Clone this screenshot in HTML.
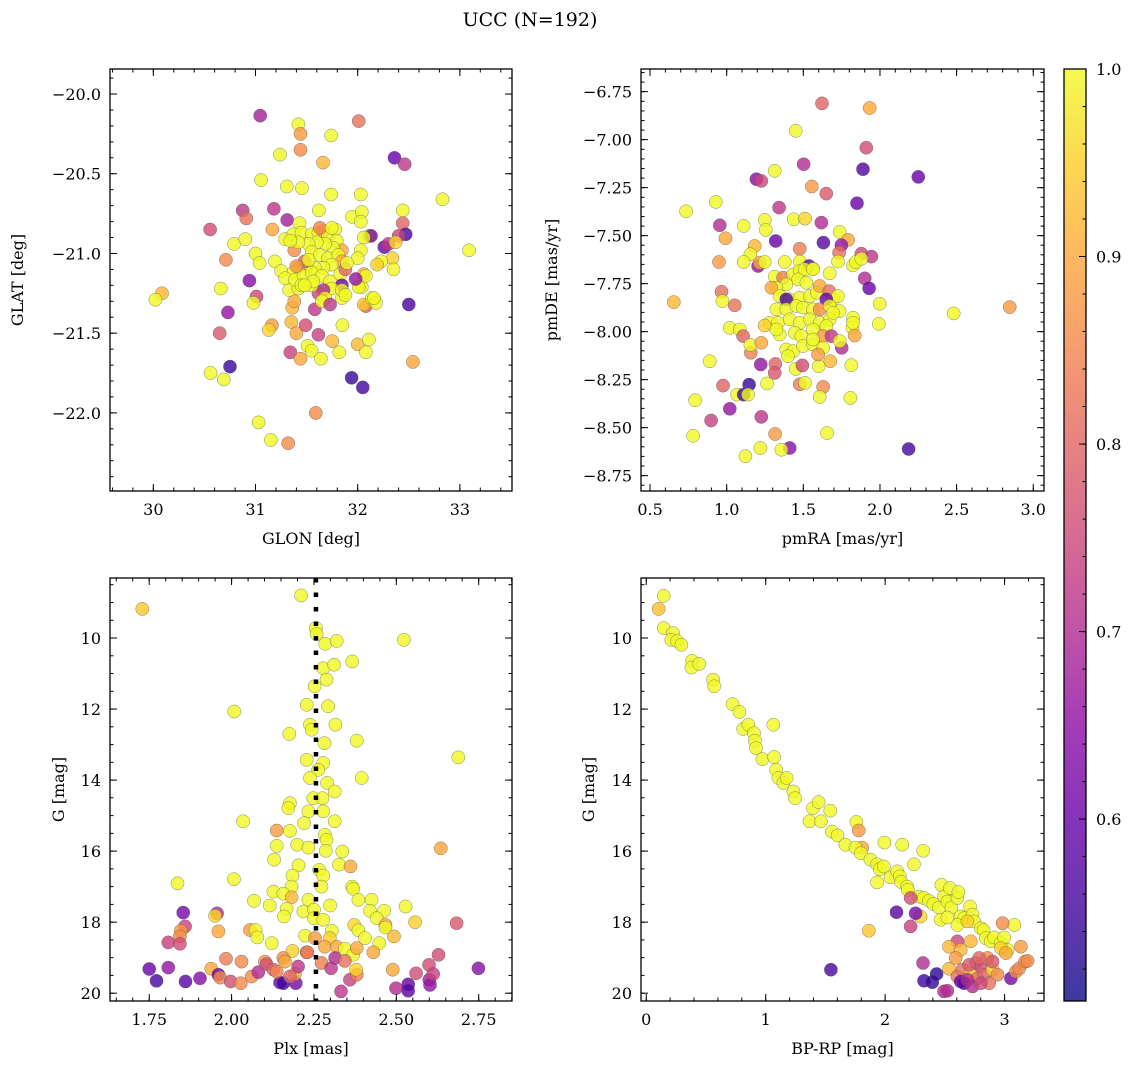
<!DOCTYPE html>
<html><head><meta charset="utf-8">
<style>
html,body{margin:0;padding:0;background:#fff;}
svg{display:block;font-family:"DejaVu Serif","Liberation Serif",serif;}
</style></head>
<body>
<svg id="chart" width="1136" height="1068" viewBox="0 0 1136 1068" xmlns="http://www.w3.org/2000/svg">
<defs>
<linearGradient id="plasmaGrad" x1="0" y1="1" x2="0" y2="0">
<stop offset="0" stop-color="#0d0887"/><stop offset="0.1" stop-color="#41049d"/><stop offset="0.2" stop-color="#6a00a8"/><stop offset="0.3" stop-color="#8f0da4"/><stop offset="0.4" stop-color="#b12a90"/><stop offset="0.5" stop-color="#cc4778"/><stop offset="0.6" stop-color="#e16462"/><stop offset="0.7" stop-color="#f2844b"/><stop offset="0.8" stop-color="#fca636"/><stop offset="0.9" stop-color="#fcce25"/><stop offset="1" stop-color="#f0f921"/>
</linearGradient>
</defs>
<text x="530" y="26" text-anchor="middle" font-size="19">UCC (N=192)</text>
</svg>
<script>
// ---- Panel A: GLON / GLAT ----
const glonGlatProb = [
[31.046,-20.135,0.68],[31.42,-20.19,1],[31.44,-20.25,0.88],[32.01,-20.17,0.82],[31.74,-20.26,1],[31.44,-20.35,0.86],[31.24,-20.38,1],[31.66,-20.43,0.92],[32.36,-20.40,0.6],[32.46,-20.44,0.72],
[31.055,-20.54,1],[31.306,-20.58,1],[31.454,-20.59,1],[31.74,-20.63,1],[32.03,-20.63,1],[32.83,-20.66,1],[30.875,-20.73,0.72],[30.91,-20.78,0.82],[31.18,-20.72,0.72],[31.31,-20.79,0.68],
[31.62,-20.73,1],[31.945,-20.77,1],[32.04,-20.74,1],[32.03,-20.80,1],[32.44,-20.73,1],[32.44,-20.81,0.8],[30.556,-20.85,0.76],[31.43,-20.81,1],[31.165,-20.85,0.9],[32.47,-20.88,0.56],
[32.40,-20.89,0.74],[32.26,-20.96,0.6],[32.30,-20.94,0.72],[32.37,-20.93,0.95],[32.11,-20.89,1],[32.13,-20.89,0.62],[32.06,-20.90,1],[32.03,-20.98,1],[32.0,-21.03,1],[32.34,-21.03,0.95],
[32.23,-21.05,1],[32.19,-21.07,0.95],[32.35,-21.10,1],[33.09,-20.98,1],[30.79,-20.94,1],[30.90,-20.91,1],[31.0,-21.0,1],[31.04,-21.06,1],[30.71,-21.04,0.86],[30.94,-21.17,0.64],
[30.66,-21.22,1],[31.01,-21.27,0.75],[30.98,-21.31,1],[30.085,-21.25,0.92],[30.02,-21.29,1],[30.73,-21.37,0.66],[30.65,-21.50,0.78],[30.75,-21.71,0.54],[30.56,-21.75,1],[30.69,-21.79,1],
[31.16,-21.45,0.88],[31.13,-21.48,0.96],[31.35,-21.43,0.92],[31.40,-21.50,0.9],[31.49,-21.45,0.76],[31.615,-21.51,0.74],[31.51,-21.58,1],[31.55,-21.61,1],[31.64,-21.66,1],[31.34,-21.62,0.74],
[31.44,-21.66,0.9],[31.75,-21.55,0.92],[31.82,-21.62,1],[31.85,-21.45,1],[32.0,-21.57,0.92],[32.11,-21.54,1],[32.08,-21.62,1],[32.54,-21.68,0.9],[31.94,-21.78,0.54],[32.05,-21.84,0.55],
[32.50,-21.32,0.56],[32.08,-21.33,0.8],[32.06,-21.32,0.94],[32.14,-21.28,1],[32.18,-21.31,1],[32.16,-21.28,1],[32.04,-21.21,1],[32.01,-21.21,1],[32.06,-21.13,0.9],[32.08,-21.14,1],
[31.98,-21.16,0.66],[31.59,-22.0,0.86],[31.03,-22.06,1],[31.15,-22.17,1],[31.32,-22.19,0.86],[31.36,-21.34,0.92],[31.38,-21.30,0.9],[31.58,-21.35,0.72],[31.33,-21.23,1],[31.42,-21.22,1],
[31.19,-21.05,1],[31.25,-21.11,1],[31.38,-20.98,0.86],
[31.29,-20.91,1],[31.37,-20.88,1],[31.45,-20.87,1],[31.55,-20.88,1],[31.615,-20.87,1],[31.665,-20.86,0.9],[31.71,-20.89,1],[31.78,-20.85,1],[31.795,-20.92,1],[31.845,-20.98,0.9],
[31.76,-20.965,1],[31.68,-20.94,1],[31.60,-20.93,1],[31.52,-20.94,1],[31.42,-20.93,1],[31.34,-20.92,1],[31.55,-20.99,1],[31.63,-21.01,1],[31.71,-21.03,1],[31.81,-21.01,1],
[31.845,-21.05,0.9],[31.745,-21.07,1],[31.665,-21.09,1],[31.58,-21.09,1],[31.50,-21.07,1],[31.42,-21.09,0.9],[31.37,-21.12,1],[31.29,-21.155,1],[31.385,-21.165,1],[31.47,-21.14,1],
[31.55,-21.12,1],[31.65,-21.14,1],[31.73,-21.175,1],[31.83,-21.13,1],[31.88,-21.10,0.8],[31.845,-21.20,0.6],[31.745,-21.22,1],[31.665,-21.23,0.7],[31.615,-21.25,0.75],[31.68,-21.28,1],
[31.65,-21.30,1],[31.55,-21.20,1],[31.48,-21.05,0.8],[31.52,-21.04,1],[31.63,-20.84,0.85],[31.745,-20.84,1],[31.565,-21.175,1],[31.45,-21.20,1],[31.845,-21.28,1],[31.73,-21.32,0.72],
[31.895,-21.06,1],[31.40,-21.08,0.88],[31.48,-21.20,1],[31.845,-21.23,1],[31.88,-21.26,1]
];
const glonTicks = [30,31,32,33];
const glonTickLabels = ["30","31","32","33"];
const glatTicks = [-20,-20.5,-21,-21.5,-22];
const glatTickLabels = ["\u221220.0","\u221220.5","\u221221.0","\u221221.5","\u221222.0"];

// ---- Panel B: pmRA / pmDE ----
const pmraPmdeProb = [
[1.622,-6.811,0.8],[1.933,-6.835,0.9],[1.450,-6.954,1],[1.911,-7.042,0.76],[1.502,-7.128,0.7],[1.889,-7.154,0.57],[2.250,-7.194,0.6],[1.313,-7.162,1],[1.194,-7.206,0.64],[1.226,-7.215,0.75],
[1.555,-7.244,0.88],[1.650,-7.281,0.78],[1.850,-7.331,0.6],[0.929,-7.324,1],[0.735,-7.373,1],[1.342,-7.354,0.72],[0.955,-7.446,0.7],[1.111,-7.449,1],[1.248,-7.418,1],[1.255,-7.470,1],
[1.437,-7.415,1],[1.511,-7.411,0.96],[1.618,-7.432,0.7],[1.737,-7.481,1],[1.792,-7.522,0.9],[0.992,-7.514,0.9],[1.320,-7.528,0.6],[1.631,-7.536,0.58],[1.748,-7.549,0.66],[1.476,-7.568,0.84],
[1.183,-7.554,0.92],[1.155,-7.597,1],[1.733,-7.589,0.82],[1.879,-7.594,0.75],[1.944,-7.609,0.72],[0.950,-7.637,0.88],[1.111,-7.637,1],[1.205,-7.658,0.66],[1.216,-7.641,0.9],[1.248,-7.637,1],
[1.379,-7.637,1],[1.476,-7.635,1],[1.537,-7.658,0.58],[1.563,-7.672,1],[1.726,-7.635,1],[1.824,-7.655,1],[1.842,-7.637,1],[1.879,-7.620,1],[1.672,-7.696,1],[1.900,-7.722,0.7],
[1.929,-7.774,0.6],[0.655,-7.846,0.92],[0.966,-7.792,0.82],[0.972,-7.841,1],[1.052,-7.863,0.82],[1.998,-7.855,1],[2.481,-7.905,1],[2.846,-7.872,0.88],[1.992,-7.959,1],[1.020,-7.980,1],
[1.085,-7.989,1],[1.107,-8.023,0.8],[1.157,-8.110,0.84],[1.155,-8.069,1],[1.226,-8.058,0.9],[0.889,-8.154,1],[1.222,-8.171,0.66],[1.318,-8.168,0.8],[1.313,-8.215,0.78],[1.450,-8.194,1],
[1.494,-8.176,0.76],[1.600,-8.180,1],[1.676,-8.154,0.92],[1.813,-8.175,1],[1.750,-8.084,0.7],[1.146,-8.276,0.54],[0.976,-8.281,0.8],[1.263,-8.270,1],[1.476,-8.274,0.84],[1.511,-8.267,1],
[1.629,-8.288,0.86],[1.068,-8.328,1],[1.111,-8.328,0.55],[1.139,-8.328,1],[1.607,-8.340,1],[1.807,-8.345,1],[0.794,-8.357,1],[1.020,-8.402,0.66],[1.226,-8.444,0.72],[0.898,-8.463,0.74],
[1.316,-8.533,0.88],[1.655,-8.528,1],[0.781,-8.542,1],[1.411,-8.606,0.64],[1.357,-8.615,1],[1.220,-8.606,1],[1.122,-8.649,1],[2.187,-8.611,0.56],
[1.313,-7.714,1],[1.368,-7.719,0.84],[1.433,-7.702,1],[1.476,-7.684,1],[1.509,-7.675,1],[1.563,-7.675,1],[1.466,-7.728,1],[1.520,-7.745,1],[1.389,-7.754,1],[1.324,-7.771,1],
[1.292,-7.771,0.9],[1.346,-7.815,1],[1.411,-7.832,1],[1.476,-7.823,1],[1.542,-7.815,1],[1.589,-7.797,1],[1.607,-7.762,0.9],[1.668,-7.789,0.82],[1.694,-7.832,1],[1.726,-7.815,1],
[1.650,-7.832,0.6],[1.389,-7.832,0.56],[1.324,-7.884,1],[1.389,-7.884,1],[1.455,-7.867,1],[1.498,-7.875,1],[1.563,-7.884,1],[1.607,-7.884,0.86],[1.672,-7.867,1],[1.737,-7.893,1],
[1.281,-7.954,1],[1.335,-7.954,1],[1.411,-7.936,1],[1.476,-7.954,1],[1.542,-7.936,1],[1.607,-7.954,1],[1.672,-7.936,1],[1.650,-7.971,1],[1.248,-7.968,0.95],[1.346,-8.015,1],
[1.444,-8.006,1],[1.487,-8.023,1],[1.563,-7.989,1],[1.629,-8.023,0.88],[1.683,-8.023,0.72],[1.737,-8.049,1],[1.824,-7.928,1],[1.820,-7.980,1],[1.835,-8.020,0.9],[1.389,-8.093,1],
[1.433,-8.102,1],[1.498,-8.075,1],[1.563,-8.067,1],[1.629,-8.084,1],[1.596,-8.119,0.88],[1.400,-8.128,1],[1.563,-8.041,1],[1.324,-7.989,1],[1.694,-7.902,1],[1.824,-7.954,1]
];
const pmraTicks = [0.5,1.0,1.5,2.0,2.5,3.0];
const pmraTickLabels = ["0.5","1.0","1.5","2.0","2.5","3.0"];
const pmdeTicks = [-6.75,-7.0,-7.25,-7.5,-7.75,-8.0,-8.25,-8.5,-8.75];
const pmdeTickLabels = ["\u22126.75","\u22127.00","\u22127.25","\u22127.50","\u22127.75","\u22128.00","\u22128.25","\u22128.50","\u22128.75"];

// ---- Panel C: Plx / G ----
const plxGProb = [
[1.729,9.18,0.94],[2.211,8.80,1],[2.256,9.72,1],[2.258,9.89,1],[2.284,10.16,1],[2.319,10.08,1],[2.523,10.05,1],[2.366,10.66,1],[2.278,10.85,1],[2.311,10.75,1],
[2.288,11.17,1],[2.252,11.36,1],[2.228,11.88,1],[2.293,11.92,1],[2.008,12.07,1],[2.315,12.44,1],[2.238,12.44,1],[2.243,12.58,1],[2.175,12.70,1],[2.380,12.89,1],
[2.282,12.96,1],[2.688,13.36,1],[2.228,13.43,1],[2.278,13.52,1],[2.263,13.71,1],[2.238,13.94,1],[2.395,13.94,1],[2.290,14.08,1],[2.313,14.32,1],[2.248,14.51,1],
[2.276,14.51,1],[2.177,14.65,1],[2.172,14.79,1],[2.233,14.88,1],[2.278,14.88,1],[2.220,15.21,1],[2.313,15.16,1],[2.035,15.16,1],[2.137,15.42,0.88],[2.177,15.43,1],
[2.283,15.54,1],[2.288,15.68,1],[2.137,15.85,1],[2.199,15.82,1],[2.233,15.90,1],[2.286,15.99,1],[2.336,16.01,1],[2.129,16.24,1],[2.326,16.38,1],[2.361,16.43,0.9],
[2.635,15.92,0.9],[2.203,16.40,1],[2.185,16.69,1],[2.266,16.53,1],[2.278,16.69,1],[2.007,16.79,1],[1.836,16.91,1],[2.273,17.00,1],[2.182,17.00,1],[2.366,17.00,1],
[2.369,17.06,1],[2.127,17.14,1],[2.157,17.20,1],[2.182,17.30,0.92],[2.233,17.37,1],[2.385,17.37,1],[2.425,17.37,1],[2.528,17.56,1],[2.068,17.40,1],[2.116,17.53,1],
[2.167,17.62,1],[2.299,17.53,1],[2.218,17.70,1],[2.250,17.65,1],[2.420,17.68,1],[2.463,17.68,1],[1.853,17.73,0.62],[1.956,17.75,0.7],[1.950,17.82,0.96],[2.159,17.84,1],
[2.250,17.89,1],[2.440,17.89,1],[2.278,17.93,1],[2.557,18.00,0.95],[2.683,18.03,0.78],[2.467,18.08,0.9],[2.372,18.08,0.96],[2.467,18.15,1],[1.859,18.12,0.74],[1.846,18.24,0.88],
[1.843,18.40,0.86],[1.960,18.26,0.9],[2.056,18.22,0.88],[2.073,18.22,1],[2.078,18.43,1],[1.808,18.57,0.74],[1.843,18.61,0.76],[2.122,18.59,1],[2.223,18.38,1],[2.304,18.24,1],
[2.298,18.45,0.95],[2.385,18.23,1],[2.405,18.45,1],[2.493,18.40,0.92],[2.448,18.59,1],[2.430,18.85,0.9],[2.253,18.45,0.88],[2.283,18.69,0.9],[2.319,18.69,0.9],[2.344,18.75,1],
[2.369,18.92,1],[2.185,18.81,0.95],[2.228,18.85,0.8],[2.380,18.73,0.9],
[1.750,19.32,0.6],[1.772,19.65,0.56],[1.808,19.28,0.66],[1.860,19.67,0.58],[1.904,19.58,0.64],[1.938,19.31,0.9],[1.960,19.48,0.6],[1.965,19.56,0.86],[1.983,19.03,0.84],[1.997,19.67,0.76],
[2.028,19.72,0.86],[2.030,19.11,0.86],[2.061,19.53,0.86],[2.081,19.41,0.7],[2.101,19.11,0.88],[2.106,19.18,0.76],[2.127,19.34,0.8],[2.157,19.01,0.86],[2.162,19.11,0.9],[2.147,19.70,0.6],
[2.157,19.72,0.55],[2.195,19.72,0.62],[2.192,19.46,0.9],[2.202,19.25,0.72],[2.230,18.85,0.84],[2.273,19.15,0.84],[2.302,19.30,0.72],[2.314,19.01,0.7],[2.344,19.09,0.82],[2.359,19.62,0.74],
[2.380,19.48,0.84],[2.378,19.34,0.95],[2.489,19.34,0.9],[2.499,19.86,0.7],[2.536,19.75,0.6],[2.536,19.93,0.58],[2.560,19.44,0.76],[2.599,19.20,0.76],[2.600,19.62,0.68],[2.602,19.77,0.66],
[2.612,19.46,0.74],[2.628,18.92,0.76],[2.749,19.30,0.64],[2.332,19.95,0.72],[2.177,19.53,0.8],[2.137,19.39,0.85]
];
const plxTicks = [1.75,2.0,2.25,2.5,2.75];
const plxTickLabels = ["1.75","2.00","2.25","2.50","2.75"];
const gTicks = [10,12,14,16,18,20];
const gTickLabels = ["10","12","14","16","18","20"];
const plxMedian = [2.256];

// ---- Panel D: BP-RP / G ----
const bprpGProb = [
[0.146,8.81,1],[0.104,9.18,0.93],[0.146,9.72,1],[0.224,9.86,1],[0.210,10.05,1],[0.258,10.09,1],[0.294,10.19,1],[0.384,10.64,1],[0.378,10.83,1],[0.443,10.73,1],
[0.560,11.17,1],[0.569,11.36,1],[0.723,11.86,1],[0.779,12.08,1],[0.812,12.56,1],[0.854,12.44,1],[0.902,12.68,1],[0.910,12.89,1],[0.919,13.10,1],[1.064,12.44,1],
[0.972,13.41,1],[1.070,13.35,1],[1.087,13.71,1],[1.106,13.94,1],[1.148,14.08,1],[1.176,13.94,1],[1.232,14.32,1],[1.246,14.51,1],[1.367,15.16,1],[1.395,14.79,1],
[1.443,14.62,1],[1.462,15.16,1],[1.541,14.86,1],[1.555,15.45,1],[1.602,15.56,1],[1.667,15.82,1],[1.759,15.18,1],[1.779,15.42,0.88],[1.807,15.90,0.9],[1.751,15.90,1],
[1.798,16.06,1],[1.877,16.24,1],[1.933,16.37,1],[1.955,16.51,1],[1.989,16.43,1],[1.933,16.88,1],[1.994,15.76,1],[2.045,16.74,1],[2.101,16.57,1],[2.123,16.71,1],
[2.143,15.82,1],[2.134,16.87,1],[2.185,17.00,1],[2.190,17.09,1],[2.241,16.37,1],[2.319,15.99,1],[2.283,17.28,1],[2.325,17.32,1],[2.367,17.40,1],[2.403,17.49,1],
[2.451,17.59,1],[2.471,16.95,1],[2.493,17.28,1],[2.521,17.42,1],[2.543,17.04,1],[2.555,17.59,1],[2.605,17.32,1],[2.613,17.15,1],[2.633,17.84,1],[2.661,17.89,1],
[2.711,17.56,1],[2.731,17.79,1],[2.745,17.98,1],[2.801,18.17,1],[2.824,18.22,1],[2.843,18.45,1],[2.885,18.54,1],[2.913,18.43,1],[2.969,18.59,1],[2.997,18.43,1],
[3.025,18.78,1],[3.081,18.08,1],[2.465,17.93,1],[2.605,18.08,1],[2.689,17.98,0.95],[2.297,17.84,0.96],[1.863,18.24,0.94],[2.969,18.73,0.95],[2.521,17.87,1],
[2.095,17.72,0.58],[2.255,17.75,0.62],[2.213,18.12,0.74],[2.213,17.32,0.76],[2.317,19.15,0.7],[1.546,19.34,0.56],[2.325,19.65,0.55],[2.395,19.69,0.54],[2.431,19.46,0.53],[2.493,19.95,0.7],
[2.521,19.93,0.7],[2.605,18.54,0.75],[2.535,18.69,0.92],[2.633,18.78,0.92],[2.717,18.54,0.92],[2.535,19.31,0.92],[2.605,19.53,0.82],[2.647,19.34,0.82],[2.717,19.44,0.94],[2.773,19.58,0.82],
[2.633,19.67,0.6],[2.661,19.72,0.58],[2.689,19.62,0.7],[2.731,19.81,0.7],[2.759,19.15,0.78],[2.801,19.25,0.76],[2.829,19.48,0.8],[2.871,19.72,0.82],[2.899,19.34,0.95],[2.941,19.48,0.86],
[2.983,18.03,0.86],[3.011,18.87,0.9],[3.053,19.58,0.62],[3.095,19.39,0.86],[3.137,18.69,0.88],[3.123,19.30,0.86],[3.171,19.11,0.86],[3.193,19.09,0.86],[2.801,19.72,0.75],[2.857,19.01,0.86],
[2.899,19.11,0.78],[2.787,19.01,0.8],[2.703,19.20,0.78],[2.591,19.01,0.88]
];
const bprpTicks = [0,1,2,3];
const bprpTickLabels = ["0","1","2","3"];

// ---- Colorbar ----
const cbarTicks = [0.6,0.7,0.8,0.9,1.0];
const cbarTickLabels = ["0.6","0.7","0.8","0.9","1.0"];
const cbarRange = [0.503, 1.0];

const NS = 'http://www.w3.org/2000/svg';
const svg = document.getElementById('chart');
function mk(tag, attrs, parent){
  const e = document.createElementNS(NS, tag);
  for (const k in attrs) e.setAttribute(k, attrs[k]);
  parent.appendChild(e);
  return e;
}
const stops = [[0,[13,8,135]],[0.1,[65,4,157]],[0.2,[106,0,168]],[0.3,[143,13,164]],[0.4,[177,42,144]],[0.5,[204,71,120]],[0.6,[225,100,98]],[0.7,[242,132,75]],[0.8,[252,166,54]],[0.9,[252,206,37]],[1,[240,249,33]]];
function plasma(t){
  t = Math.max(0, Math.min(1, t));
  for (let i=0;i<stops.length-1;i++){
    const a=stops[i], b=stops[i+1];
    if (t<=b[0]){
      const f=(t-a[0])/(b[0]-a[0]);
      const c=a[1].map((v,j)=>Math.round(v+(b[1][j]-v)*f));
      return 'rgb('+c.join(',')+')';
    }
  }
  return 'rgb(240,249,33)';
}
function norm(p){ return (p - cbarRange[0]) / (cbarRange[1] - cbarRange[0]); }

function panel(cfg){
  const g = mk('g', {}, svg);
  
  
  const sx = v => cfg.x0 + (v - cfg.xmin) / (cfg.xmax - cfg.xmin) * (cfg.x1 - cfg.x0);
  const sy = v => cfg.y0 + (v - cfg.ytop) / (cfg.ybot - cfg.ytop) * (cfg.y1 - cfg.y0);
  const cid = cfg.name + '-clip';
  const cp = mk('clipPath', {id: cid}, g);
  mk('rect', {x: cfg.x0, y: cfg.y0, width: cfg.x1 - cfg.x0, height: cfg.y1 - cfg.y0}, cp);
  const pts = mk('g', {'clip-path': 'url(#' + cid + ')'}, g);
  
  
  cfg.data.forEach(d => {
    const c = mk('circle', {cx: sx(d[0]).toFixed(1), cy: sy(d[1]).toFixed(1), r: 6.6, fill: plasma(norm(d[2])), 'fill-opacity': 0.8, stroke: '#555', 'stroke-width': 0.5, 'stroke-opacity': 0.7}, pts);
    
    
  });
  if (cfg.vline){
    cfg.vline.forEach(v => {
      const l = mk('line', {x1: sx(v), x2: sx(v), y1: cfg.y0, y2: cfg.y1, stroke: '#000', 'stroke-width': 4.5, 'stroke-dasharray': '4.5 10'}, pts);
      
      
    });
  }
  // ticks
  const tk = mk('g', {stroke: '#000', 'stroke-width': 1}, g);
  
  
  const lo = Math.min(cfg.xmin, cfg.xmax), hi = Math.max(cfg.xmin, cfg.xmax);
  for (let v = Math.ceil(lo / cfg.xminor) * cfg.xminor; v <= hi + 1e-9; v += cfg.xminor){
    const x = sx(v).toFixed(1);
    mk('line', {x1: x, x2: x, y1: cfg.y1, y2: cfg.y1 - 3.5}, tk);
    mk('line', {x1: x, x2: x, y1: cfg.y0, y2: cfg.y0 + 3.5}, tk);
  }
  const ylo = Math.min(cfg.ytop, cfg.ybot), yhi = Math.max(cfg.ytop, cfg.ybot);
  for (let v = Math.ceil(ylo / cfg.yminor) * cfg.yminor; v <= yhi + 1e-9; v += cfg.yminor){
    const y = sy(v).toFixed(1);
    mk('line', {x1: cfg.x0, x2: cfg.x0 + 3.5, y1: y, y2: y}, tk);
    mk('line', {x1: cfg.x1, x2: cfg.x1 - 3.5, y1: y, y2: y}, tk);
  }
  cfg.xticks.forEach((v, i) => {
    const x = sx(v);
    mk('line', {x1: x, x2: x, y1: cfg.y1, y2: cfg.y1 - 7}, tk);
    mk('line', {x1: x, x2: x, y1: cfg.y0, y2: cfg.y0 + 7}, tk);
    const t = mk('text', {x: x, y: cfg.y1 + 24, 'text-anchor': 'middle', 'font-size': 16}, g);
    t.textContent = cfg.xlabels[i];
    
    
  });
  cfg.yticks.forEach((v, i) => {
    const y = sy(v);
    mk('line', {x1: cfg.x0, x2: cfg.x0 + 7, y1: y, y2: y}, tk);
    mk('line', {x1: cfg.x1, x2: cfg.x1 - 7, y1: y, y2: y}, tk);
    const t = mk('text', {x: cfg.x0 - 9, y: y + 6, 'text-anchor': 'end', 'font-size': 16}, g);
    t.textContent = cfg.ylabels[i];
    
    
  });
  const fr = mk('rect', {x: cfg.x0, y: cfg.y0, width: cfg.x1 - cfg.x0, height: cfg.y1 - cfg.y0, fill: 'none', stroke: '#000', 'stroke-width': 1.3}, g);
  
  
  const xt = mk('text', {x: (cfg.x0 + cfg.x1) / 2, y: cfg.y1 + 53, 'text-anchor': 'middle', 'font-size': 16}, g);
  xt.textContent = cfg.xtitle;
  
  
  const yt = mk('text', {x: 0, y: 0, 'text-anchor': 'middle', 'font-size': 16, transform: 'translate(' + cfg.ytx + ',' + ((cfg.y0 + cfg.y1) / 2) + ') rotate(-90)'}, g);
  yt.textContent = cfg.ytitle;
  
  
}

panel({name: 'glon-glat-panel', x0: 110, x1: 512, y0: 69, y1: 491, xmin: 29.576, xmax: 33.51, ytop: -19.843, ybot: -22.49,
  xticks: glonTicks, xlabels: glonTickLabels, yticks: glatTicks, ylabels: glatTickLabels, xminor: 0.2, yminor: 0.1,
  data: glonGlatProb, xtitle: 'GLON [deg]', ytitle: 'GLAT [deg]', ytx: 23});
panel({name: 'pm-panel', x0: 641, x1: 1044, y0: 69, y1: 491, xmin: 0.441, xmax: 3.07, ytop: -6.632, ybot: -8.83,
  xticks: pmraTicks, xlabels: pmraTickLabels, yticks: pmdeTicks, ylabels: pmdeTickLabels, xminor: 0.1, yminor: 0.05,
  data: pmraPmdeProb, xtitle: 'pmRA [mas/yr]', ytitle: 'pmDE [mas/yr]', ytx: 557});
panel({name: 'plx-g-panel', x0: 110, x1: 512, y0: 578, y1: 1001, xmin: 1.631, xmax: 2.851, ytop: 8.31, ybot: 20.22,
  xticks: plxTicks, xlabels: plxTickLabels, yticks: gTicks, ylabels: gTickLabels, xminor: 0.05, yminor: 0.5,
  data: plxGProb, xtitle: 'Plx [mas]', ytitle: 'G [mag]', ytx: 64, vline: plxMedian});
panel({name: 'cmd-panel', x0: 641, x1: 1044, y0: 578, y1: 1001, xmin: -0.044, xmax: 3.33, ytop: 8.31, ybot: 20.22,
  xticks: bprpTicks, xlabels: bprpTickLabels, yticks: gTicks, ylabels: gTickLabels, xminor: 0.2, yminor: 0.5,
  data: bprpGProb, xtitle: 'BP-RP [mag]', ytitle: 'G [mag]', ytx: 594});

// colorbar
(function(){
  const x0 = 1064, x1 = 1086, y0 = 69, y1 = 1001;
  const g = mk('g', {}, svg);
  
  
  const sy = v => y1 - (v - cbarRange[0]) / (cbarRange[1] - cbarRange[0]) * (y1 - y0);
  const r = mk('rect', {x: x0, y: y0, width: x1 - x0, height: y1 - y0, fill: 'url(#plasmaGrad)', 'fill-opacity': 0.8, stroke: '#000', 'stroke-width': 1.3}, g);
  
  
  for (let v = 0.52; v <= 1.0001; v += 0.02){
    const y = sy(v).toFixed(1);
    mk('line', {x1: x1, x2: x1 - 3.5, y1: y, y2: y, stroke: '#000', 'stroke-width': 1}, g);
  }
  cbarTicks.forEach((v, i) => {
    const y = sy(v);
    mk('line', {x1: x1, x2: x1 - 7, y1: y, y2: y, stroke: '#000', 'stroke-width': 1}, g);
    const t = mk('text', {x: x1 + 10, y: y + 6, 'font-size': 16}, g);
    t.textContent = cbarTickLabels[i];
    
    
  });
})();
</script>
</body></html>
